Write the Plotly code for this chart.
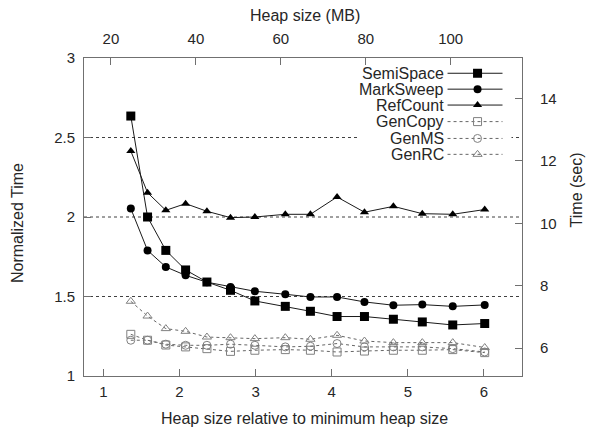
import plotly.graph_objects as go

# ---- data ----
rel_heap = [1.36, 1.58, 1.82, 2.08, 2.36, 2.67, 2.99, 3.39, 3.72, 4.07, 4.43, 4.81, 5.19, 5.59, 6.01]

semispace = [2.635, 2.0, 1.79, 1.667, 1.591, 1.539, 1.472, 1.438, 1.407, 1.374, 1.374, 1.357, 1.34, 1.321, 1.33]
marksweep = [2.053, 1.79, 1.686, 1.633, 1.59, 1.56, 1.533, 1.514, 1.497, 1.497, 1.466, 1.445, 1.449, 1.438, 1.447]
refcount = [2.415, 2.153, 2.042, 2.084, 2.036, 1.996, 2.0, 2.017, 2.017, 2.126, 2.03, 2.067, 2.021, 2.017, 2.047]
gencopy = [1.262, 1.225, 1.195, 1.183, 1.172, 1.155, 1.162, 1.166, 1.162, 1.151, 1.157, 1.162, 1.162, 1.166, 1.147]
genms = [1.225, 1.225, 1.2, 1.193, 1.193, 1.2, 1.193, 1.183, 1.187, 1.204, 1.183, 1.183, 1.183, 1.172, 1.151]
genrc = [1.47, 1.377, 1.298, 1.281, 1.245, 1.241, 1.235, 1.241, 1.231, 1.256, 1.22, 1.21, 1.21, 1.21, 1.179]

series_names = ["SemiSpace", "MarkSweep", "RefCount", "GenCopy", "GenMS", "GenRC"]
series_values = [semispace, marksweep, refcount, gencopy, genms, genrc]

x_ticks = [1, 2, 3, 4, 5, 6]
y_ticks = [1, 1.5, 2, 2.5, 3]
y_tick_labels = ["1", "1.5", "2", "2.5", "3"]
y_grid = [1.5, 2, 2.5]
mb_ticks = [20, 40, 60, 80, 100]
sec_ticks = [6, 8, 10, 12, 14]

# ---- styles ----
SOLID = dict(color="#1a1a1a", width=1)
DASHED = dict(color="#666666", width=1, dash="3px,3px")
styles = [
    dict(line=SOLID, marker=dict(symbol="square", size=9, color="#000000")),
    dict(line=SOLID, marker=dict(symbol="circle", size=8, color="#000000")),
    dict(line=SOLID, marker=dict(symbol="triangle-up", size=8, color="#000000")),
    dict(line=DASHED, marker=dict(symbol="square-open", size=8, color="#808080", line=dict(width=1))),
    dict(line=DASHED, marker=dict(symbol="circle-open", size=8, color="#808080", line=dict(width=1))),
    dict(line=DASHED, marker=dict(symbol="triangle-up-open", size=8, color="#808080", line=dict(width=1))),
]

FONT = "Liberation Sans, Arial, sans-serif"
TXT = "#262626"
AX = "#707070"

fig = go.Figure()

# dotted horizontal grid lines (drawn first, underneath everything)
for gy in y_grid:
    fig.add_shape(type="line", xref="paper", yref="y", x0=0, x1=1, y0=gy, y1=gy,
                  line=dict(color="#404040", width=1, dash="dot"), layer="below")

# white legend background, covering grid lines
fig.add_shape(type="rect", xref="paper", yref="paper", x0=0.625, x1=0.976, y0=0.668, y1=0.982,
              fillcolor="white", line=dict(width=0), layer="below")

for name, vals, st in zip(series_names, series_values, styles):
    fig.add_trace(go.Scatter(x=rel_heap, y=vals, mode="lines+markers", name=name,
                             line=st["line"], marker=st["marker"], showlegend=False,
                             xaxis="x", yaxis="y"))

# dummy traces so secondary axes render
fig.add_trace(go.Scatter(x=[None], y=[None], xaxis="x2", yaxis="y", showlegend=False, hoverinfo="skip"))
fig.add_trace(go.Scatter(x=[None], y=[None], xaxis="x", yaxis="y2", showlegend=False, hoverinfo="skip"))

# ---- custom gnuplot-style legend (text left, sample right) ----
leg_rows = [0.952, 0.902, 0.852, 0.800, 0.747, 0.697]
for name, st, ry in zip(series_names, styles, leg_rows):
    fig.add_trace(go.Scatter(x=[0.830, 0.8985, 0.9555], y=[ry, ry, ry], mode="lines",
                             line=st["line"], xaxis="x3", yaxis="y3",
                             showlegend=False, hoverinfo="skip"))
    fig.add_trace(go.Scatter(x=[0.8985], y=[ry], mode="markers", marker=st["marker"],
                             xaxis="x3", yaxis="y3", showlegend=False, hoverinfo="skip"))
    fig.add_annotation(x=0.8255, y=ry, xref="paper", yref="paper", text=name,
                       showarrow=False, xanchor="right", yanchor="middle",
                       font=dict(family=FONT, size=16, color=TXT))

common_axis = dict(showline=True, linecolor=AX, linewidth=1, ticks="inside", ticklen=7,
                   tickcolor=AX, tickfont=dict(family=FONT, size=15, color=TXT),
                   zeroline=False, showgrid=False)

fig.update_layout(
    width=589, height=430,
    margin=dict(l=84, r=66.5, t=58, b=54),
    paper_bgcolor="white", plot_bgcolor="white",
    font=dict(family=FONT, color=TXT),
    xaxis=dict(range=[0.745, 6.50], tickvals=x_ticks, ticklabelstandoff=2, **common_axis),
    xaxis2=dict(range=[13.65, 116.8], tickvals=mb_ticks, overlaying="x", side="top",
                anchor="y", ticklabelstandoff=7, **common_axis),
    yaxis=dict(range=[1, 3], tickvals=y_ticks, ticktext=y_tick_labels,
               ticklabelstandoff=5, **common_axis),
    yaxis2=dict(range=[5.11, 15.29], tickvals=sec_ticks, overlaying="y", side="right",
                anchor="x", ticklabelstandoff=14, **common_axis),
    xaxis3=dict(range=[0, 1], domain=[0, 1], visible=False, overlaying="x", anchor="y3"),
    yaxis3=dict(range=[0, 1], domain=[0, 1], visible=False, overlaying="y", anchor="x3"),
)

title_font = dict(family=FONT, size=16, color=TXT)
fig.add_annotation(x=0.504, y=1.135, xref="paper", yref="paper", text="Heap size (MB)",
                   showarrow=False, xanchor="center", yanchor="middle", font=title_font)
fig.add_annotation(x=0.504, y=-0.135, xref="paper", yref="paper",
                   text="Heap size relative to minimum heap size", showarrow=False,
                   xanchor="center", yanchor="middle", font=title_font)
fig.add_annotation(x=-0.153, y=0.481, xref="paper", yref="paper", text="Normalized Time",
                   textangle=-90, showarrow=False, xanchor="center", yanchor="middle",
                   font=title_font)
fig.add_annotation(x=1.1266, y=0.585, xref="paper", yref="paper", text="Time (sec)",
                   textangle=-90, showarrow=False, xanchor="center", yanchor="middle",
                   font=title_font)

fig.write_html("out.html")
